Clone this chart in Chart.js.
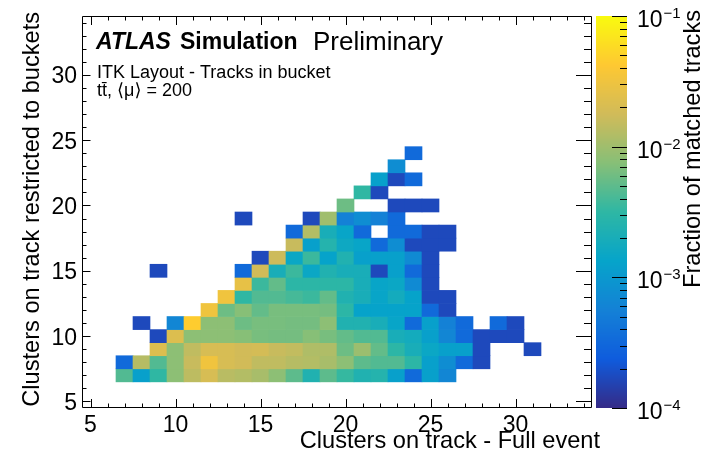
<!DOCTYPE html>
<html>
<head>
<meta charset="utf-8">
<script src="https://cdn.jsdelivr.net/npm/chart.js@4.4.1/dist/chart.umd.min.js"></script>
<style>
html,body{margin:0;padding:0;background:#fff;}
canvas{display:block;}
</style>
</head>
<body>
<canvas id="c" width="704" height="456"></canvas>
<script>
// ---------- data (fraction of matched tracks, in units of 1e-3) ----------
const UNIT = 1e-3;
const _ = null;
const yBins    = [7, 8, 9, 10, 11, 12, 13, 14, 15, 16, 17, 18, 19, 20, 21, 22, 23, 24];
const rowStart = [7, 7, 9, 9, 8, 12, 13, 14, 9, 15, 17, 17, 14, 20, 21, 22, 23, 24];
const row07 = [4.5,1.2,3.2,8,14,20,13.5,12.5,11,8,5,2.4,5,3.4,2.4,2.6,1.2,0.33,1.2,0.63];
const row08 = [0.33,13,4.5,8,16,32,20,18,14.5,14.5,13,12.5,11,8,5,4.5,4.5,3.0,1.2,0.75,0.33,0.17];
const row09 = [22,8,14.5,20,20,18,19,16,15,12,12,5.8,9.5,5.3,3.0,2.0,1.5,1.2,1.2,0.17,_,_,0.17];
const row10 = [0.17,22,8,8,8,7.5,6.5,6.3,6.3,7.5,6.5,5.3,4.5,4.5,2.0,1.8,1.2,0.63,0.33,0.17,0.17,0.17];
const row11 = [0.17,_,0.63,45,8,8,5.8,6.5,6.5,6.3,6.3,8,2.4,2.4,2.0,1.4,0.33,1.2,0.56,0.33,_,0.33,0.17];
const row12 = [32,5.8,7.5,5.3,6.5,6.5,6.5,6.3,3.0,1.3,1.3,1.3,1.3,0.33,0.17];
const row13 = [32,3.2,4.5,4.5,4.0,3.6,5.3,2.4,2.0,1.4,1.8,1.3,0.17,0.17];
const row14 = [27,3.6,5.3,3.0,3.0,3.0,3.0,2.0,1.4,1.5,0.7,0.17];
const row15 = [0.17,_,_,_,_,0.33,18,2.0,3.6,1.5,2.4,2.0,2.0,0.17,1.2,0.33,0.17];
const row16 = [0.17,17,1.5,3.6,1.3,2.4,1.2,1.2,1.2,0.7,0.17];
const row17 = [16,1.2,2.6,1.6,1.4,0.33,0.75,0.17,0.17,0.17];
const row18 = [0.33,12.5,2.0,1.4,0.33,_,0.33,0.33,0.17,0.17];
const row19 = [0.17,_,_,_,0.17,10,0.56,0.75,0.56,0.33];
const row20 = [5.8,_,_,0.17,0.17,0.17];
const row21 = [3.2,0.17];
const row22 = [1.2,0.17,0.33];
const row23 = [0.75];
const row24 = [0.33];
const rows = [row07,row08,row09,row10,row11,row12,row13,row14,row15,row16,row17,row18,row19,row20,row21,row22,row23,row24];

const xTicks = [5, 10, 15, 20, 25, 30];
const yTicks = [5, 10, 15, 20, 25, 30];
const zTicks = [1e-4, 1e-3, 1e-2, 1e-1];
const zTickExp = ['\u22124', '\u22123', '\u22122', '\u22121'];

const xTitle = 'Clusters on track - Full event';
const yTitle = 'Clusters on track restricted to buckets';
const zTitle = 'Fraction of matched tracks';
const label1 = 'ITK Layout - Tracks in bucket';
const label2 = 't\u0074\u0304, \u27E8\u03BC\u27E9 = 200';

// ---------- colour map (ROOT kBird) ----------
const birdStops = [[53,42,135],[15,92,221],[20,129,214],[6,164,202],[46,183,164],[135,191,119],[209,187,89],[254,200,50],[249,251,14]];
function cmap(v) {
  let t = (Math.log10(v) + 4) / 3;
  t = Math.max(0, Math.min(1, t));
  const f = t * 8;
  const k = Math.min(7, Math.floor(f));
  const u = f - k;
  const a = birdStops[k], b = birdStops[k + 1];
  const c = a.map((av, i) => Math.round(av + (b[i] - av) * u));
  return `rgb(${c[0]},${c[1]},${c[2]})`;
}

const cells = [];
rows.forEach((r, k) => {
  r.forEach((v, i) => {
    if (v !== null) cells.push({ x: rowStart[k] + i, y: [yBins[k] - 0.5, yBins[k] + 0.5], v: v * UNIT });
  });
});

const FONT = '"Liberation Sans", Arial, Helvetica, "DejaVu Sans", sans-serif';

const decor = {
  id: 'decor',
  afterDraw(chart) {
    const { ctx, chartArea: a, scales } = chart;
    const x = scales.x, y = scales.y, z = scales.z;
    ctx.save();

    // colour bar
    const cbL = 596, cbR = 627;
    for (let py = Math.round(z.top); py < Math.round(z.bottom); py++) {
      ctx.fillStyle = cmap(z.getValueForPixel(py + 0.5));
      ctx.fillRect(cbL, py, cbR - cbL, 1);
    }
    ctx.strokeStyle = '#000';
    ctx.lineWidth = 1;
    ctx.beginPath();
    for (let n = -4; n <= -1; n++) {
      for (let m = 1; m <= 9; m++) {
        const v = m * Math.pow(10, n);
        if (v > 0.1000001) break;
        const py = Math.round(z.getPixelForValue(v)) + 0.5;
        const len = m === 1 ? 15 : 7;
        ctx.moveTo(cbR, py); ctx.lineTo(cbR - len, py);
      }
    }
    ctx.stroke();

    // frame
    ctx.beginPath();
    ctx.rect(a.left + 0.5, a.top + 0.5, a.right - a.left - 1, a.bottom - a.top - 1);
    ctx.stroke();

    // axis ticks (inside)
    ctx.beginPath();
    for (let v = 5; v <= 34; v++) {
      const major = v % 5 === 0;
      const px = Math.round(x.getPixelForValue(v)) + 0.5;
      const lx = major ? 9 : 4.5;
      ctx.moveTo(px, a.bottom); ctx.lineTo(px, a.bottom - lx);
      ctx.moveTo(px, a.top); ctx.lineTo(px, a.top + lx);
      const py = Math.round(y.getPixelForValue(v)) + 0.5;
      const ly = major ? 8.5 : 4.5;
      const lr = major ? 16 : 8;
      ctx.moveTo(a.left, py); ctx.lineTo(a.left + ly, py);
      ctx.moveTo(a.right, py); ctx.lineTo(a.right - lr, py);
    }
    ctx.stroke();

    // tick labels
    ctx.fillStyle = '#000';
    ctx.font = '23px ' + FONT;
    ctx.textBaseline = 'alphabetic';
    ctx.textAlign = 'center';
    xTicks.forEach(v => ctx.fillText(String(v), x.getPixelForValue(v), 432));
    ctx.textAlign = 'right';
    yTicks.forEach(v => ctx.fillText(String(v), 77, y.getPixelForValue(v) + 8.5));

    // colour bar labels
    ctx.textAlign = 'left';
    zTicks.forEach((v, i) => {
      const py = z.getPixelForValue(v) + 11;
      ctx.font = '23px ' + FONT;
      ctx.fillText('10', 637, py);
      const w = ctx.measureText('10').width;
      ctx.font = '15px ' + FONT;
      ctx.fillText(zTickExp[i], 637 + w + 1, py - 9);
    });

    // axis titles
    ctx.font = '23.6px ' + FONT;
    ctx.textAlign = 'right';
    ctx.fillText(xTitle, 600, 448);
    ctx.save();
    ctx.translate(39, 12);
    ctx.rotate(-Math.PI / 2);
    ctx.fillText(yTitle, 0, 0);
    ctx.restore();
    ctx.save();
    ctx.translate(700, 10);
    ctx.rotate(-Math.PI / 2);
    ctx.fillText(zTitle, 0, 0);
    ctx.restore();

    // ATLAS label
    ctx.textAlign = 'left';
    ctx.font = 'italic bold 23px ' + FONT;
    ctx.fillText('ATLAS', 96, 49);
    ctx.font = 'bold 23px ' + FONT;
    ctx.fillText('Simulation', 180, 49);
    ctx.font = '26px ' + FONT;
    ctx.fillText('Preliminary', 313, 50);
    ctx.font = '18px ' + FONT;
    ctx.fillText(label1, 97, 78);
    ctx.fillText(label2, 97, 96);

    ctx.restore();
  }
};

new Chart(document.getElementById('c'), {
  type: 'bar',
  data: {
    datasets: [{
      data: cells,
      xAxisID: 'x',
      yAxisID: 'y',
      backgroundColor: c => (c.raw ? cmap(c.raw.v) : '#000'),
      borderWidth: 0,
      barPercentage: 1,
      categoryPercentage: 1
    }]
  },
  options: {
    responsive: false,
    animation: false,
    devicePixelRatio: 1,
    layout: { padding: { top: 16, left: 0, right: 0, bottom: 0 } },
    plugins: { legend: { display: false }, tooltip: { enabled: false } },
    scales: {
      x: {
        type: 'linear', min: 4.5, max: 34.5, offset: false,
        grid: { display: false }, border: { display: false }, ticks: { display: false },
        afterBuildTicks: s => { s.ticks = xTicks.map(v => ({ value: v })); },
        afterFit: s => { s.height = 48; }
      },
      y: {
        type: 'linear', min: 4.5, max: 34.5, position: 'left',
        grid: { display: false }, border: { display: false }, ticks: { display: false },
        afterBuildTicks: s => { s.ticks = yTicks.map(v => ({ value: v })); },
        afterFit: s => { s.width = 82; }
      },
      z: {
        axis: 'y', type: 'logarithmic', position: 'right', min: 1e-4, max: 1e-1,
        grid: { display: false }, border: { display: false }, ticks: { display: false },
        afterBuildTicks: s => { s.ticks = zTicks.map(v => ({ value: v })); },
        afterFit: s => { s.width = 112; }
      }
    }
  },
  plugins: [decor]
});
</script>
</body>
</html>
